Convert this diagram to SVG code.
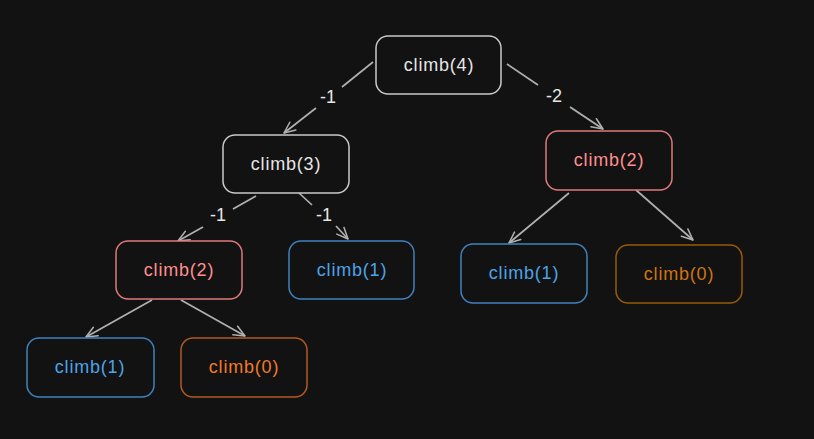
<svg xmlns="http://www.w3.org/2000/svg" width="814" height="439" viewBox="0 0 814 439">
<defs>
<marker id="ah" viewBox="0 0 20 20" refX="18" refY="10" markerWidth="14" markerHeight="14" markerUnits="userSpaceOnUse" orient="auto">
<path d="M2,3 L18,10 L2,17" fill="none" stroke="#b0b0b0" stroke-width="2.2" stroke-linecap="round" stroke-linejoin="round"/>
</marker>
<style>
.n rect{fill:#121212;stroke-width:1.5}
.n text{font-family:"Liberation Sans",Arial,sans-serif;font-size:18px;letter-spacing:0.8px;text-anchor:middle;dominant-baseline:central}
.w rect{stroke:#c9c9c9}.w text{fill:#e6e6e6}
.r rect{stroke:#e07a7a}.r text{fill:#ff8f8f}
.b rect{stroke:#3f82c0}.b text{fill:#4fa3e8}
.o rect{stroke:#b25a22}.o text{fill:#f07a2c}
.d rect{stroke:#9a5a08}.d text{fill:#cf7410}
.c line{stroke:#b0b0b0;stroke-width:1.7;fill:none;marker-end:url(#ah)}
.c path{stroke:#b0b0b0;stroke-width:1.7;fill:none}
.lbl{font-family:"Liberation Sans",Arial,sans-serif;font-size:18px;fill:#e6e6e6;text-anchor:middle;dominant-baseline:central}
</style>
</defs>
<rect width="814" height="439" fill="#121212"/>
<g id="connectors" class="c">
<path d="M373,62 L342,87"/>
<line x1="316" y1="108" x2="284" y2="133"/>
<path d="M507,64 L538,85"/>
<line x1="570" y1="107" x2="603" y2="129"/>
<path d="M256,196 L233,209"/>
<line x1="203" y1="227" x2="178" y2="241"/>
<path d="M299,193 L312,205"/>
<line x1="336" y1="226" x2="348" y2="239"/>
<line x1="152" y1="300" x2="86" y2="337"/>
<line x1="181" y1="300" x2="245" y2="336"/>
<line x1="569" y1="193" x2="509" y2="243"/>
<line x1="636" y1="190" x2="693" y2="240"/>
<text class="lbl" x="328" y="97">-1</text>
<text class="lbl" x="554" y="96">-2</text>
<text class="lbl" x="218" y="215">-1</text>
<text class="lbl" x="324" y="215">-1</text>
</g>
<g id="n4" class="n w"><rect x="376" y="36" width="125" height="58" rx="12"/><text x="439" y="65">climb(4)</text></g>
<g id="n3" class="n w"><rect x="223" y="135" width="126" height="58" rx="12"/><text x="286" y="164">climb(3)</text></g>
<g id="n2a" class="n r"><rect x="116" y="241" width="126" height="58" rx="12"/><text x="179" y="270">climb(2)</text></g>
<g id="n1a" class="n b"><rect x="289" y="241" width="125" height="58" rx="12"/><text x="352" y="270">climb(1)</text></g>
<g id="n1b" class="n b"><rect x="27" y="338" width="127" height="59" rx="12"/><text x="90" y="367">climb(1)</text></g>
<g id="n0b" class="n o"><rect x="181" y="338" width="126" height="59" rx="12"/><text x="244" y="367">climb(0)</text></g>
<g id="n2b" class="n r"><rect x="546" y="131" width="126" height="59" rx="12"/><text x="609" y="160">climb(2)</text></g>
<g id="n1c" class="n b"><rect x="461" y="244" width="126" height="59" rx="12"/><text x="524" y="273">climb(1)</text></g>
<g id="n0c" class="n d"><rect x="616" y="245" width="126" height="58" rx="12"/><text x="679" y="274">climb(0)</text></g>
</svg>
